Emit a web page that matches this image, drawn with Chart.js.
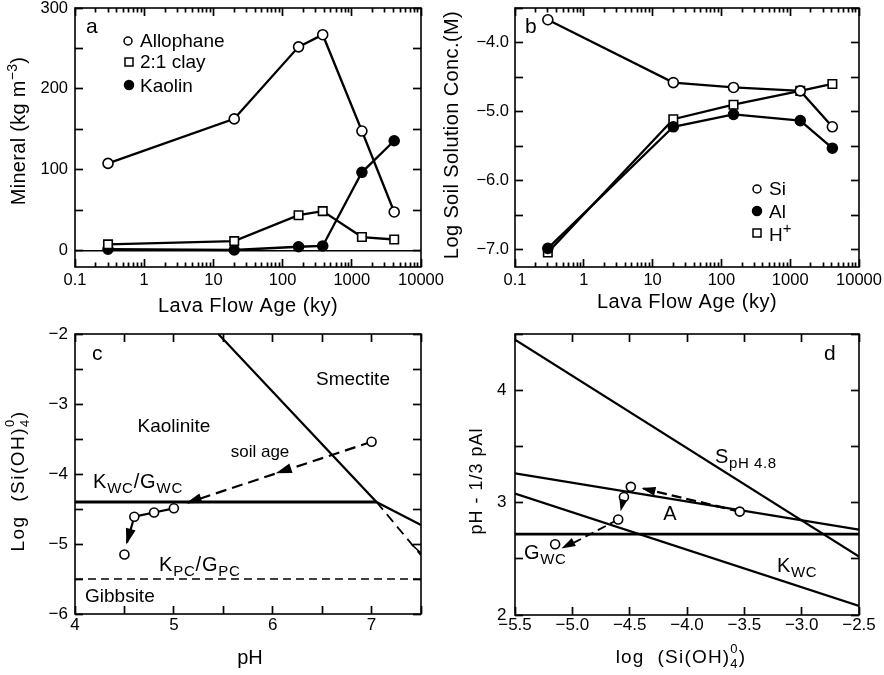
<!DOCTYPE html>
<html>
<head>
<meta charset="utf-8">
<script src="https://cdn.jsdelivr.net/npm/chart.js@4"></script>
<style>
body { margin: 0; background: #fff; }
#wrap { position: relative; width: 884px; height: 675px; }
canvas { position: absolute; left: 0; top: 0; }
</style>
</head>
<body>
<div id="wrap">
<canvas id="chartA" width="884" height="675"></canvas>
<canvas id="chartB" width="884" height="675"></canvas>
<canvas id="chartC" width="884" height="675"></canvas>
<canvas id="chartD" width="884" height="675"></canvas>
</div>
<script>
// panel a - mineral content vs lava flow age
const mineralAge = [0.3, 20, 170, 380, 1400, 4100];
const allophane = [108, 163, 252, 267, 148, 48];
const clay21 = [8, 12, 44, 49, 17, 14];
const kaolin = [2, 1, 5, 6, 97, 136];

// panel b - soil solution
const solutionAge = [0.3, 20, 150, 1400, 4100];
const siConc = [-3.67, -4.58, -4.65, -4.70, -5.22];
const alConc = [-6.98, -5.22, -5.04, -5.13, -5.53];
const hConc = [-7.04, -5.11, -4.90, -4.70, -4.60];

// panel c - stability diagram, pH vs log Si(OH)4
const soilPH = [7.0, 5.0, 4.8, 4.6, 4.5];
const soilLogSi = [-3.54, -4.49, -4.55, -4.61, -5.15];
const smectiteEdge = [[5.45, -2.0], [7.05, -4.4], [7.5, -4.73]];
const smectiteEdgeDash = [[7.05, -4.4], [7.5, -5.16]];
const cornerEdge = [[7.4, -5.0], [7.5, -5.13]];
const kwcLine = [[4.0, -4.4], [7.05, -4.4]];
const kpcLine = [[4.0, -5.5], [7.5, -5.5]];
const ageArrowC = [[7.0, -3.54], [5.14, -4.41]];
const dropArrowC = [[4.6, -4.61], [4.525, -4.98]];

// panel d - pH-1/3pAl vs log Si(OH)4
const soilLogSiD = [-3.54, -4.49, -4.55, -4.60, -5.15];
const soilActivity = [2.92, 3.14, 3.05, 2.85, 2.63];
const smectiteLine = [[-5.5, 4.45], [-2.5, 2.52]];
const allophaneLine = [[-5.5, 3.26], [-2.5, 2.76]];
const kaoliniteLine = [[-5.5, 3.08], [-2.5, 2.08]];
const gibbsiteLine = [[-5.5, 2.72], [-2.5, 2.72]];
const ageArrowD1 = [[-3.54, 2.92], [-4.38, 3.125]];
const ageArrowD2 = [[-4.55, 3.05], [-4.565, 2.97]];
const ageArrowD3 = [[-4.6, 2.85], [-5.04, 2.615]];

const ageDecades = [0.1, 1, 10, 100, 1000, 10000];

const FONT = '"Liberation Sans", Arial, Helvetica, sans-serif';
const font = s => s + 'px ' + FONT;
Chart.defaults.font.family = FONT;
Chart.defaults.color = '#000';

function xy(xs, ys) { return xs.map((x, i) => ({ x: x, y: ys[i] })); }
function pts(list) { return list.map(p => ({ x: p[0], y: p[1] })); }
function steps(a, b, st) {
  const out = [];
  for (let v = a; v <= b + 1e-9; v += st) out.push(+v.toFixed(4));
  return out;
}
function logMinor(lo, hi) {
  const out = [];
  for (let d = lo; d < hi * 0.99; d *= 10)
    for (let k = 2; k <= 9; k++) out.push(+(d * k).toPrecision(3));
  return out;
}
const isInt = v => Math.abs(v - Math.round(v)) < 1e-9;
const minus = v => (v < 0 ? '\u2212' : '') + Math.abs(v);
const minus1 = v => (v < 0 ? '\u2212' : '') + Math.abs(v).toFixed(1);

function rich(ctx, x, y, parts, opt) {
  opt = opt || {};
  ctx.save();
  ctx.translate(x, y);
  if (opt.rot) ctx.rotate(opt.rot);
  ctx.letterSpacing = (opt.ls || 0) + 'px';
  ctx.fillStyle = '#000';
  ctx.textBaseline = 'alphabetic';
  ctx.textAlign = 'left';
  const widths = parts.map(p => {
    ctx.font = font(p.size);
    if (p.stack) return Math.max(...p.stack.map(t => ctx.measureText(t).width));
    return ctx.measureText(p.t).width;
  });
  const total = widths.reduce((s, w) => s + w, 0);
  let cx = opt.align === 'center' ? -total / 2 : 0;
  parts.forEach((p, i) => {
    ctx.font = font(p.size);
    if (p.stack) {
      ctx.fillText(p.stack[0], cx, p.dy[0]);
      ctx.fillText(p.stack[1], cx, p.dy[1]);
    } else {
      ctx.fillText(p.t, cx, p.dy || 0);
    }
    cx += widths[i];
  });
  ctx.letterSpacing = '0px';
  ctx.restore();
}

function marker(ctx, type, x, y, r) {
  ctx.save();
  ctx.lineWidth = 1.5;
  ctx.strokeStyle = '#000';
  ctx.fillStyle = type === 'dot' ? '#000' : '#fff';
  ctx.beginPath();
  if (type === 'rect') ctx.rect(x - r, y - r, 2 * r, 2 * r);
  else ctx.arc(x, y, r, 0, Math.PI * 2);
  ctx.fill();
  ctx.stroke();
  ctx.restore();
}

function head(ctx, sx, sy, seg, len, half) {
  const x1 = sx.getPixelForValue(seg[0][0]), y1 = sy.getPixelForValue(seg[0][1]);
  const x2 = sx.getPixelForValue(seg[1][0]), y2 = sy.getPixelForValue(seg[1][1]);
  const ang = Math.atan2(y2 - y1, x2 - x1);
  const c = Math.cos(ang), s = Math.sin(ang);
  ctx.beginPath();
  ctx.moveTo(x2 + 2 * c, y2 + 2 * s);
  ctx.lineTo(x2 - len * c + half * s, y2 - len * s - half * c);
  ctx.lineTo(x2 - len * c - half * s, y2 - len * s + half * c);
  ctx.closePath();
  ctx.fillStyle = '#000';
  ctx.fill();
}

function drawDeco(chart, d) {
  const ctx = chart.ctx;
  const a = chart.chartArea;
  const sx = chart.scales.x, sy = chart.scales.y;
  ctx.save();
  ctx.strokeStyle = '#000';
  ctx.lineWidth = 1.6;
  ctx.strokeRect(a.left, a.top, a.right - a.left, a.bottom - a.top);
  (d.heads || []).forEach(h => head(ctx, sx, sy, h.seg, h.len, h.half));
  (d.markers || []).forEach(m => marker(ctx, m.type, m.x, m.y, m.r));
  d.texts.forEach(t => rich(ctx, t.x, t.y, t.parts, t.opt));
  ctx.restore();
}

// inward tick marks drawn by the axes themselves (negative tick length)
function gridIn(len) {
  return { display: true, drawOnChartArea: false, drawTicks: true, tickLength: -len,
           tickColor: '#000', tickWidth: 1.7, color: '#000', lineWidth: 1 };
}

function buildScales(area, s) {
  const xBase = { type: s.xType, min: s.xMin, max: s.xMax, border: { display: false } };
  const yBase = { type: 'linear', min: s.yMin, max: s.yMax, border: { display: false } };
  const setTicks = vals => sc => { sc.ticks = vals.map(v => ({ value: v })); };
  const flatX = sc => { sc.height = 0; sc.paddingLeft = 0; sc.paddingRight = 0; };
  const flatY = sc => { sc.width = 0; sc.paddingTop = 0; sc.paddingBottom = 0; };
  const scales = {
    x: Object.assign({}, xBase, {
      position: 'bottom', weight: 1, grid: gridIn(8),
      afterBuildTicks: setTicks(s.xMajor),
      ticks: { font: { family: FONT, size: s.xSize }, color: '#000', padding: s.xPad + 8,
               autoSkip: false, maxRotation: 0, callback: s.xFmt },
      afterFit: sc => { sc.height = 675 - area.bottom; sc.paddingLeft = 0; sc.paddingRight = 0; }
    }),
    xTop: Object.assign({}, xBase, {
      position: 'top', weight: 0, grid: gridIn(8),
      afterBuildTicks: setTicks(s.xMajor), ticks: { display: false }, afterFit: flatX
    }),
    y: Object.assign({}, yBase, {
      position: 'left', weight: 1, grid: gridIn(8),
      afterBuildTicks: setTicks(s.yMajor),
      ticks: { font: { family: FONT, size: s.ySize }, color: '#000', padding: s.yPad + 8,
               autoSkip: false, callback: s.yFmt },
      afterFit: sc => { sc.width = area.left; sc.paddingTop = 0; sc.paddingBottom = 0; }
    }),
    yRight: Object.assign({}, yBase, {
      position: 'right', weight: 0, grid: gridIn(8),
      afterBuildTicks: setTicks(s.yMajor), ticks: { display: false }, afterFit: flatY
    })
  };
  if (s.xMinor) {
    scales.xMinor = Object.assign({}, xBase, {
      position: 'bottom', weight: 0, grid: gridIn(4.5),
      afterBuildTicks: setTicks(s.xMinor), ticks: { display: false }, afterFit: flatX
    });
    scales.xMinorTop = Object.assign({}, xBase, {
      position: 'top', weight: 0, grid: gridIn(4.5),
      afterBuildTicks: setTicks(s.xMinor), ticks: { display: false }, afterFit: flatX
    });
  }
  return scales;
}

function makeChart(id, area, axes, datasets, deco) {
  datasets.forEach(ds => { ds.xAxisID = 'x'; ds.yAxisID = 'y'; });
  return new Chart(document.getElementById(id), {
    type: 'scatter',
    data: { datasets: datasets },
    options: {
      responsive: false,
      animation: false,
      events: [],
      layout: { padding: { left: 0, top: area.top, right: 884 - area.right, bottom: 0 } },
      plugins: { legend: { display: false }, tooltip: { enabled: false } },
      scales: buildScales(area, axes)
    },
    plugins: [{ id: 'deco' + id, afterDraw: c => drawDeco(c, deco) }]
  });
}

function series(data, style, r, extra) {
  return Object.assign({
    data: data,
    showLine: true,
    borderColor: '#000',
    borderWidth: 2.3,
    pointStyle: style === 'rect' ? 'rect' : 'circle',
    pointRadius: r,
    pointBackgroundColor: style === 'dot' ? '#000' : '#fff',
    pointBorderColor: '#000',
    pointBorderWidth: 1.6
  }, extra || {});
}
function plain(data, width, dash) {
  return { data: data, showLine: true, borderColor: '#000', borderWidth: width, borderDash: dash || [], pointRadius: 0 };
}

const minorAges = logMinor(0.1, 10000);

// ---- panel a
makeChart('chartA', { left: 75, right: 421, top: 8, bottom: 267 },
  {
    xType: 'logarithmic', xMin: 0.1, xMax: 10000, xMajor: ageDecades, xMinor: minorAges,
    xSize: 16.5, xPad: 4, xFmt: v => String(v),
    yMin: -20, yMax: 300, yMajor: steps(0, 300, 50),
    ySize: 16.5, yPad: 7, yFmt: v => (v % 100 === 0 ? String(v) : '')
  },
  [
    series(xy(mineralAge, allophane), 'circle', 5),
    series(xy(mineralAge, clay21), 'rect', 6),
    series(xy(mineralAge, kaolin), 'dot', 5),
    plain(pts([[0.1, 0], [10000, 0]]), 1.5)
  ],
  {
    markers: [
      { type: 'circle', x: 128, y: 41, r: 4 },
      { type: 'rect', x: 129, y: 62, r: 4 },
      { type: 'dot', x: 129, y: 85, r: 4.5 }
    ],
    texts: [
      { x: 86, y: 33, parts: [{ t: 'a', size: 21 }] },
      { x: 140, y: 47, parts: [{ t: 'Allophane', size: 19 }] },
      { x: 140, y: 68, parts: [{ t: '2:1 clay', size: 19 }] },
      { x: 140, y: 92, parts: [{ t: 'Kaolin', size: 19 }] },
      { x: 248, y: 312, parts: [{ t: 'Lava Flow Age (ky)', size: 20 }], opt: { align: 'center', ls: 0.5 } },
      { x: 25, y: 131, parts: [{ t: 'Mineral (kg m', size: 20 }, { t: '\u22123', size: 14, dy: -8 }, { t: ')', size: 20 }],
        opt: { align: 'center', rot: -Math.PI / 2, ls: 0.3 } }
    ]
  });

// ---- panel b
makeChart('chartB', { left: 515, right: 859, top: 8, bottom: 267 },
  {
    xType: 'logarithmic', xMin: 0.1, xMax: 10000, xMajor: ageDecades, xMinor: minorAges,
    xSize: 16.5, xPad: 4, xFmt: v => String(v),
    yMin: -7.25, yMax: -3.5, yMajor: steps(-7, -3.5, 0.5),
    ySize: 16.5, yPad: 6, yFmt: v => (isInt(v) ? minus1(v) : '')
  },
  [
    series(xy(solutionAge, siConc), 'circle', 5),
    series(xy(solutionAge, alConc), 'dot', 5),
    series(xy(solutionAge, hConc), 'rect', 6)
  ],
  {
    markers: [
      { type: 'circle', x: 757, y: 189, r: 4 },
      { type: 'dot', x: 757, y: 211, r: 4.5 },
      { type: 'rect', x: 757, y: 233, r: 4 }
    ],
    texts: [
      { x: 525, y: 33, parts: [{ t: 'b', size: 21 }] },
      { x: 769, y: 195, parts: [{ t: 'Si', size: 19 }] },
      { x: 769, y: 218, parts: [{ t: 'Al', size: 19 }] },
      { x: 769, y: 241, parts: [{ t: 'H', size: 19 }, { t: '+', size: 15, dy: -8 }] },
      { x: 687, y: 308, parts: [{ t: 'Lava Flow Age (ky)', size: 20 }], opt: { align: 'center', ls: 0.5 } },
      { x: 458, y: 135, parts: [{ t: 'Log Soil Solution Conc.(M)', size: 20 }],
        opt: { align: 'center', rot: -Math.PI / 2, ls: 0.4 } }
    ]
  });

// ---- panel c
makeChart('chartC', { left: 75, right: 421, top: 334, bottom: 614 },
  {
    xType: 'linear', xMin: 4, xMax: 7.5, xMajor: steps(4, 7.5, 0.5),
    xSize: 17, xPad: 1.5, xFmt: v => (isInt(v) ? String(v) : ''),
    yMin: -6, yMax: -2, yMajor: steps(-6, -2, 0.5),
    ySize: 17, yPad: 7, yFmt: v => (isInt(v) ? minus(v) : '')
  },
  [
    series(xy(soilPH, soilLogSi), 'circle', 4.5, { showLine: false }),
    series(xy(soilPH.slice(1, 4), soilLogSi.slice(1, 4)), 'circle', 0),
    plain(pts(dropArrowC), 2.2),
    plain(pts(ageArrowC), 2.2, [11, 6]),
    plain(pts(smectiteEdge), 2.2),
    plain(pts(smectiteEdgeDash), 1.8, [10, 6]),
    plain(pts(cornerEdge), 1.5),
    plain(pts(kwcLine), 2.8),
    plain(pts(kpcLine), 1.6, [8, 5])
  ],
  {
    heads: [
      { seg: [[7.0, -3.54], [6.05, -3.98]], len: 14, half: 5 },
      { seg: ageArrowC, len: 14, half: 5 },
      { seg: dropArrowC, len: 14, half: 5 }
    ],
    texts: [
      { x: 92, y: 360, parts: [{ t: 'c', size: 21 }] },
      { x: 353, y: 385, parts: [{ t: 'Smectite', size: 19 }], opt: { align: 'center' } },
      { x: 174, y: 432, parts: [{ t: 'Kaolinite', size: 19 }], opt: { align: 'center' } },
      { x: 260, y: 457, parts: [{ t: 'soil age', size: 17 }], opt: { align: 'center' } },
      { x: 93, y: 488, parts: [{ t: 'K', size: 20 }, { t: 'WC', size: 15, dy: 5 }, { t: '/G', size: 20 }, { t: 'WC', size: 15, dy: 5 }], opt: { ls: 0.8 } },
      { x: 159, y: 571, parts: [{ t: 'K', size: 20 }, { t: 'PC', size: 15, dy: 5 }, { t: '/G', size: 20 }, { t: 'PC', size: 15, dy: 5 }], opt: { ls: 0.8 } },
      { x: 85, y: 602, parts: [{ t: 'Gibbsite', size: 19 }] },
      { x: 250, y: 664, parts: [{ t: 'pH', size: 20 }], opt: { align: 'center' } },
      { x: 24, y: 481, parts: [{ t: 'Log  (Si(OH)', size: 19 }, { stack: ['4', '0'], size: 13, dy: [5, -10] }, { t: ')', size: 19 }],
        opt: { align: 'center', rot: -Math.PI / 2, ls: 1.5 } }
    ]
  });

// ---- panel d
makeChart('chartD', { left: 515, right: 859, top: 334, bottom: 615 },
  {
    xType: 'linear', xMin: -5.5, xMax: -2.5, xMajor: steps(-5.5, -2.5, 0.5),
    xSize: 17, xPad: 0.5, xFmt: minus1,
    yMin: 2, yMax: 4.5, yMajor: steps(2, 4.5, 0.5),
    ySize: 17, yPad: 8.5, yFmt: v => (isInt(v) ? String(v) : '')
  },
  [
    series(xy(soilLogSiD, soilActivity), 'circle', 4.5, { showLine: false }),
    plain(pts(ageArrowD1), 2.4, [10, 5]),
    plain(pts(ageArrowD2), 1.8),
    plain(pts(ageArrowD3), 1.8, [9, 5]),
    plain(pts(smectiteLine), 2.2),
    plain(pts(allophaneLine), 2.2),
    plain(pts(kaoliniteLine), 2.2),
    plain(pts(gibbsiteLine), 2.8)
  ],
  {
    heads: [
      { seg: ageArrowD1, len: 12, half: 4.5 },
      { seg: [[-4.55, 3.05], [-4.575, 2.94]], len: 10, half: 4 },
      { seg: [[-4.6, 2.85], [-5.08, 2.6]], len: 12, half: 4.5 }
    ],
    texts: [
      { x: 824, y: 360, parts: [{ t: 'd', size: 21 }] },
      { x: 715, y: 463, parts: [{ t: 'S', size: 20 }, { t: 'pH 4.8', size: 15, dy: 5 }], opt: { ls: 0.6 } },
      { x: 670, y: 520, parts: [{ t: 'A', size: 20 }], opt: { align: 'center' } },
      { x: 524, y: 559, parts: [{ t: 'G', size: 20 }, { t: 'WC', size: 15, dy: 5 }], opt: { ls: 0.6 } },
      { x: 777, y: 572, parts: [{ t: 'K', size: 20 }, { t: 'WC', size: 15, dy: 5 }], opt: { ls: 0.6 } },
      { x: 681, y: 663, parts: [{ t: 'log  (Si(OH)', size: 19 }, { stack: ['4', '0'], size: 13, dy: [5, -10] }, { t: ')', size: 19 }],
        opt: { align: 'center', ls: 1.2 } },
      { x: 482, y: 481, parts: [{ t: 'pH - 1/3 pAl', size: 18 }], opt: { align: 'center', rot: -Math.PI / 2, ls: 1 } }
    ]
  });
</script>
</body>
</html>
